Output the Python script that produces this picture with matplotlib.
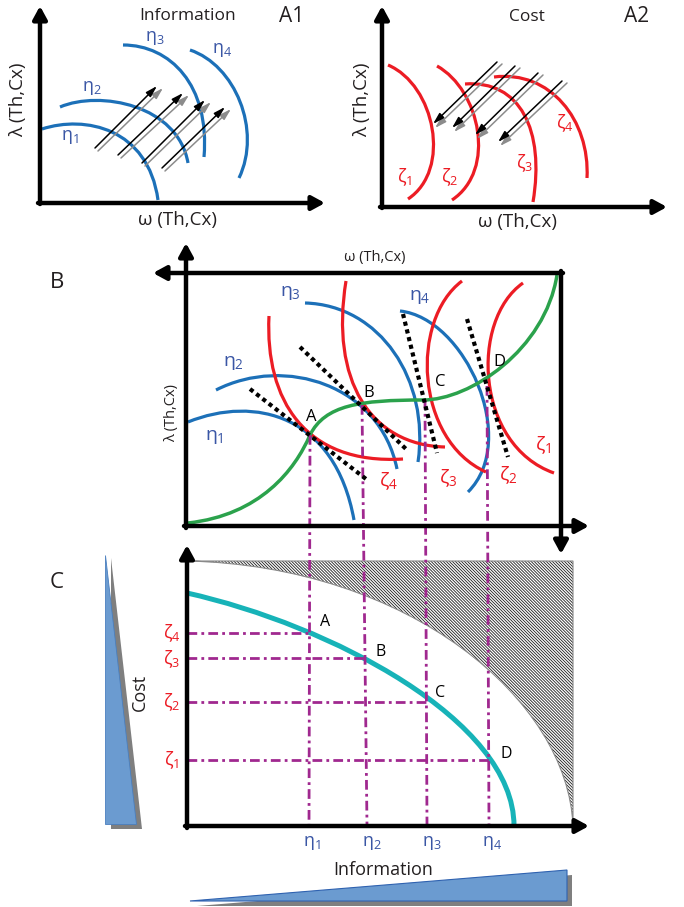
import matplotlib.pyplot as plt
from matplotlib.path import Path
from matplotlib.patches import PathPatch, Polygon

plt.rcParams['font.family'] = ['Open Sans', 'DejaVu Sans']
plt.rcParams['mathtext.fontset'] = 'custom'
plt.rcParams['mathtext.rm'] = 'Open Sans'
plt.rcParams['mathtext.it'] = 'Open Sans'
plt.rcParams['hatch.linewidth'] = 0.62

BLUE = '#1c70b8'
LAB_BLUE = '#3a56a5'
RED = '#ec1c24'
GREEN = '#2ba24c'
CYAN = '#17b3b8'
PURPLE = '#a0288f'
WEDGE = '#6b9bd0'
SHADOW = '#7f7f7f'
TXT = '#231f20'

# ---- panel A1 (information contours), cubic bezier control points in px
a1_eta = [
    [(42, 129), (85, 115), (148, 128), (158, 200)],
    [(60, 107), (100, 90), (178, 105), (188, 163)],
    [(123, 45), (170, 45), (210, 85), (204, 157)],
    [(190, 50), (235, 65), (262, 130), (239, 178)],
]
a1_eta_lab = [(70, 137), (92, 88), (155, 38), (222, 50)]
a1_black = [((95, 148), (157, 86)), ((118, 155), (183, 93)),
            ((142, 163), (205, 100)), ((162, 168), (225, 107))]
a1_grey = [((98, 151), (163, 88)), ((121, 158), (189, 95)),
           ((145, 166), (211, 102)), ((165, 171), (231, 109))]

# ---- panel A2 (cost contours)
a2_zeta = [
    [(388, 65), (435, 85), (452, 170), (408, 199)],
    [(437, 66), (480, 90), (497, 170), (452, 200)],
    [(465, 84), (520, 80), (545, 130), (533, 202)],
    [(494, 77), (550, 70), (590, 120), (587, 178)],
]
a2_zeta_lab = [(405, 177), (450, 177), (525, 163), (565, 123)]
a2_black = [((497, 62), (433, 124)), ((515, 66), (452, 128)),
            ((538, 73), (475, 135)), ((562, 81), (498, 142))]
a2_grey = [((502, 64), (435, 128)), ((520, 68), (454, 132)),
           ((543, 75), (477, 139)), ((567, 83), (500, 146))]

# ---- panel B (combined)
b_eta = [
    [(188, 422), (255, 395), (335, 415), (354, 520)],
    [(216, 390), (285, 355), (380, 385), (397, 469)],
    [(305, 303), (380, 305), (430, 380), (418, 462)],
    [(400, 311), (465, 318), (520, 440), (468, 492)],
]
b_eta_lab = [(214, 437), (233, 363), (290, 293), (420, 297)]
b_zeta = [
    [(269, 316), (265, 400), (305, 465), (403, 459)],
    [(346, 281), (330, 380), (370, 445), (445, 447)],
    [(462, 281), (410, 320), (415, 440), (486, 472)],
    [(523, 283), (470, 320), (475, 445), (554, 473)],
]
b_zeta_lab = [(388, 481), (448, 478), (508, 475), (543, 445)]
b_green = [(188, 523), (260, 515), (295, 470), (310, 435),
           (325, 405), (360, 400), (423, 400),
           (470, 400), (545, 350), (557, 275)]
b_tangents = [((250, 389), (366, 479)), ((300, 347), (406, 449)),
              ((403, 314), (437, 453)), ((467, 319), (508, 457))]
points = ['A', 'B', 'C', 'D']
b_point_lab = [(311, 417), (369, 393), (440, 382), (499, 362)]

# ---- panel C (cost vs information frontier)
v_top = [(310, 435), (362, 405), (425, 400), (487, 386)]
v_bottom = [(309, 826), (367, 826), (427, 826), (489, 826)]
h_y = [633, 658, 702, 760]
h_x_end = [309, 365, 426, 489]
c_zeta_lab_y = [760, 702, 659, 633]
c_eta_lab_x = [312, 372, 432, 492]
c_point_lab = [(325, 622), (381, 652), (440, 693), (506, 754)]
frontier = [(187, 593), (330, 625), (514, 720), (514, 826)]
hatch_edge = [(573, 826), (568, 700), (410, 566), (187, 561)]

eta_names = [r'$\eta_1$', r'$\eta_2$', r'$\eta_3$', r'$\eta_4$']
zeta_names = [r'$\zeta_1$', r'$\zeta_2$', r'$\zeta_3$', r'$\zeta_4$']


def bezier(ax, pts, color, lw):
    codes = [Path.MOVETO] + [Path.CURVE4] * (len(pts) - 1)
    ax.add_patch(PathPatch(Path(pts, codes), fill=False, edgecolor=color,
                           lw=lw, capstyle='butt'))


def arrow(ax, p0, p1, lw=3.2, color='k', head='-|>,head_length=0.55,head_width=0.3', ms=14):
    ax.annotate('', xy=p1, xytext=p0,
                arrowprops=dict(arrowstyle=head, lw=lw, color=color,
                                shrinkA=0, shrinkB=0, mutation_scale=ms))


def thin_arrow(ax, p0, p1, color):
    arrow(ax, p0, p1, lw=1.1, color=color,
          head='-|>,head_length=0.75,head_width=0.22', ms=9)


fig = plt.figure(figsize=(6.84, 9.07), dpi=100)
ax = fig.add_axes([0, 0, 1, 1])
ax.set_xlim(0, 684)
ax.set_ylim(907, 0)
ax.axis('off')

# ---------------- A1
arrow(ax, (40, 204), (40, 6))
arrow(ax, (38, 203), (325, 203))
for c in a1_eta:
    bezier(ax, c, BLUE, 2.3)
for (x, y), s in zip(a1_eta_lab, eta_names):
    ax.text(x, y, s, color=LAB_BLUE, fontsize=13, ha='center', va='center')
for (p0, p1) in a1_grey:
    thin_arrow(ax, p0, p1, '#8c8c8c')
for (p0, p1) in a1_black:
    thin_arrow(ax, p0, p1, 'k')
ax.text(188, 16, 'Information', fontsize=12.5, color=TXT, ha='center', va='center')
ax.text(292, 17, 'A1', fontsize=15, color=TXT, ha='center', va='center')
ax.text(178, 220, 'ω (Th,Cx)', fontsize=13.5, color=TXT, ha='center', va='center')
ax.text(18, 100, 'λ (Th,Cx)', fontsize=13.5, color=TXT, ha='center', va='center', rotation=90)

# ---------------- A2
arrow(ax, (382, 208), (382, 6))
arrow(ax, (380, 207), (667, 207))
for c in a2_zeta:
    bezier(ax, c, RED, 2.3)
for (x, y), s in zip(a2_zeta_lab, zeta_names):
    ax.text(x, y, s, color=RED, fontsize=13, ha='center', va='center')
for (p0, p1) in a2_grey:
    thin_arrow(ax, p0, p1, '#8c8c8c')
for (p0, p1) in a2_black:
    thin_arrow(ax, p0, p1, 'k')
ax.text(527, 17, 'Cost', fontsize=12.5, color=TXT, ha='center', va='center')
ax.text(637, 17, 'A2', fontsize=15, color=TXT, ha='center', va='center')
ax.text(518, 222, 'ω (Th,Cx)', fontsize=13.5, color=TXT, ha='center', va='center')
ax.text(362, 100, 'λ (Th,Cx)', fontsize=13.5, color=TXT, ha='center', va='center', rotation=90)

# ---------------- C background: infeasible (hatched) region
hatch_path = Path([(187, 561), (573, 561)] + hatch_edge + [(187, 561)],
                  [Path.MOVETO, Path.LINETO, Path.LINETO,
                   Path.CURVE4, Path.CURVE4, Path.CURVE4, Path.CLOSEPOLY])
ax.add_patch(PathPatch(hatch_path, facecolor='white', edgecolor='#222222',
                       lw=0, hatch='\\' * 11))
ax.add_patch(PathPatch(hatch_path, fill=False, edgecolor='#8a8a8a', lw=0.8))

# ---------------- B
ax.text(57, 283, 'B', fontsize=16, color=TXT, ha='center', va='center')
arrow(ax, (563, 273), (153, 273))
arrow(ax, (186, 528), (186, 243))
arrow(ax, (184, 526), (589, 526))
arrow(ax, (561, 271), (561, 554))
ax.text(375, 258, 'ω (Th,Cx)', fontsize=10.5, color=TXT, ha='center', va='center')
ax.text(172, 413, 'λ (Th,Cx)', fontsize=10.5, color=TXT, ha='center', va='center', rotation=90)

# purple guide lines (B -> C)
for (x0, y0), (x1, y1) in zip(v_top, v_bottom):
    ax.plot([x0, x1], [y0, y1], color=PURPLE, lw=2, ls=(0, (3.5, 1.5, 1, 1.5)))

for c in b_eta:
    bezier(ax, c, BLUE, 2.3)
for c in b_zeta:
    bezier(ax, c, RED, 2.3)
bezier(ax, b_green, GREEN, 2.5)
for (x0, y0), (x1, y1) in b_tangents:
    ax.plot([x0, x1], [y0, y1], color='k', lw=3, ls=(0, (1, 0.9)), dash_capstyle='butt')
for (x, y), s in zip(b_eta_lab, eta_names):
    ax.text(x, y, s, color=LAB_BLUE, fontsize=14, ha='center', va='center')
for (x, y), s in zip(b_zeta_lab, zeta_names[::-1]):
    ax.text(x, y, s, color=RED, fontsize=14, ha='center', va='center')
for (x, y), s in zip(b_point_lab, points):
    ax.text(x, y, s, color='k', fontsize=12, ha='center', va='center')

# ---------------- C
ax.text(57, 583, 'C', fontsize=16, color=TXT, ha='center', va='center')
for y, xe in zip(h_y, h_x_end):
    ax.plot([187, xe], [y, y], color=PURPLE, lw=2, ls=(0, (3.5, 1.5, 1, 1.5)))
bezier(ax, frontier, CYAN, 3.6)
arrow(ax, (187, 828), (187, 545))
arrow(ax, (185, 826), (589, 826))

for y, s in zip(c_zeta_lab_y, zeta_names):
    ax.text(172, y, s, color=RED, fontsize=13, ha='center', va='center')
for x, s in zip(c_eta_lab_x, eta_names):
    ax.text(x, 843, s, color=LAB_BLUE, fontsize=13, ha='center', va='center')
for (x, y), s in zip(c_point_lab, points):
    ax.text(x, y, s, color='k', fontsize=11.5, ha='center', va='center')
ax.text(383, 870, 'Information', fontsize=13, color=TXT, ha='center', va='center')
ax.text(140, 692, 'Cost', fontsize=13, color=TXT, ha='center', va='center', rotation=90)

# wedges (increasing cost / information)
ax.add_patch(Polygon([(111, 558), (111, 829), (142, 829)], closed=True,
                     facecolor=SHADOW, edgecolor='none'))
ax.add_patch(Polygon([(105, 555), (105, 824), (136, 824)], closed=True,
                     facecolor=WEDGE, edgecolor='#4a7fbf', lw=0.6))
ax.add_patch(Polygon([(197, 906), (572, 875), (572, 906)], closed=True,
                     facecolor=SHADOW, edgecolor='none'))
ax.add_patch(Polygon([(190, 901), (567, 870), (567, 901)], closed=True,
                     facecolor=WEDGE, edgecolor='#2f62b0', lw=0.8))

fig.savefig('out.png', dpi=100)
